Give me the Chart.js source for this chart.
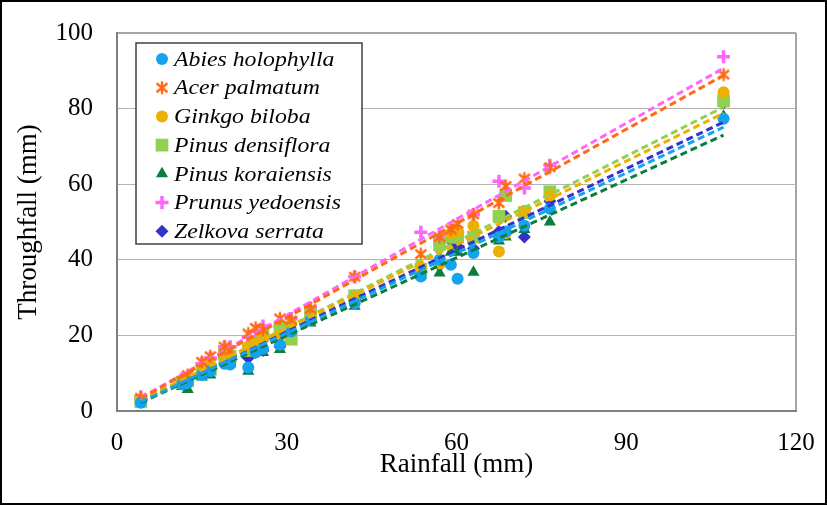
<!DOCTYPE html>
<html>
<head>
<meta charset="utf-8">
<script src="https://cdn.jsdelivr.net/npm/chart.js@4.4.1/dist/chart.umd.min.js"></script>
<style>
  html, body { margin: 0; padding: 0; background: #fff; }
  #wrap { width: 827px; height: 505px; }
</style>
</head>
<body>
<div id="wrap"><canvas id="chart" width="827" height="505"></canvas></div>
<script>
// rainfall events (mm), shared by all species
const rainfall   = [4.2, 11.5, 12.5, 15, 16.5, 19, 20, 23.2, 24.5, 25.8, 28.8, 30.8, 34.2, 42, 53.7, 57, 59, 60.2, 63, 67.5, 68.7, 72, 76.5, 107.2];

// throughfall (mm) per species
const abies      = [2.2, 7, 7.5, 9.5, 10.5, 12.5, 12.3, 11.5, 15.5, 16.5, 17.5, 21, 24, 28.5, 35.6, 40, 38.7, 35, 41.8, 46, 47.5, 49, 53.5, 77.3];
const acer       = [3.5, 8, 9.5, 13, 14.5, 17, 16, 20.5, 22, 21.5, 24.5, 24, 27, 35.5, 41.5, 46, 48, 49.5, 52, 55, 59.5, 61.5, 64.5, 89];
const ginkgo     = [3, 7.5, 8, 11.5, 12, 15, 14, 17, 18, 19, 20, 23, 25, 30, 38, 39, 47, 47.5, 49, 42.2, 47, 53, 57, 84.3];
const densiflora = [2.5, 7.5, 8, 11, 11, 15, 14.5, 16, 18, 20, 22, 19, 25.5, 30.5, 37.5, 44, 46, 46, 46, 51.5, 57, 52.5, 58, 82];
const koraiensis = [2.5, 6.5, 5.7, 9, 9.5, 13, 12.5, 10.5, 16, 15.5, 16.3, 21, 23.3, 27.7, 36, 36.5, 42, 42, 36.7, 45, 46, 48, 50, 78];
const prunus     = [3.8, 8.5, 9, 12.5, 14, 17, 17, 19.5, 21, 22.5, 22.5, 24.5, 27.3, 35.5, 47.3, 46, 47, 47.5, 52, 60.8, 57.5, 59, 65, 93.7];
const zelkova    = [3, 7.5, 7, 10, 11, 14, 13, 14, 15.5, 16, 17, 21, 25, 30.5, 37, 38.5, 45, 43.5, 43, 47.5, 51.5, 46, 55.5, 81.5];

const species = ['Abies holophylla', 'Acer palmatum', 'Ginkgo biloba', 'Pinus densiflora',
                 'Pinus koraiensis', 'Prunus yedoensis', 'Zelkova serrata'];
const series  = [abies, acer, ginkgo, densiflora, koraiensis, prunus, zelkova];
const colors  = ['#14a3ef', '#ff6a13', '#ebb000', '#92d050', '#0b7d3c', '#ff66ff', '#3333cc'];

// linear trend lines (value at first and last rainfall)
const trendX     = [4.2, 107.2];
const trendStart = [2.4, 3.3, 2.8, 2.6, 2.2, 3.5, 2.6];
const trendEnd   = [75.1, 88.8, 78.8, 80.4, 73.0, 90.7, 76.4];

const xTicks = [0, 30, 60, 90, 120];
const yTicks = [0, 20, 40, 60, 80, 100];

function asterisk(color) {
  const c = document.createElement('canvas');
  c.width = 16; c.height = 16;
  const g = c.getContext('2d');
  g.strokeStyle = color; g.lineWidth = 2.4; g.lineCap = 'butt';
  g.beginPath();
  g.moveTo(8, 1.5); g.lineTo(8, 14.5);
  g.moveTo(2.5, 3.5); g.lineTo(13.5, 12.5);
  g.moveTo(2.5, 12.5); g.lineTo(13.5, 3.5);
  g.stroke();
  return c;
}

const styles = [
  { pointStyle: 'circle',           radius: 6,   borderWidth: 0 },
  { pointStyle: asterisk(colors[1]), radius: 8,  borderWidth: 0 },
  { pointStyle: 'circle',           radius: 6,   borderWidth: 0 },
  { pointStyle: 'rect',             radius: 9,   borderWidth: 0 },
  { pointStyle: 'triangle',         radius: 7,   borderWidth: 0 },
  { pointStyle: 'cross',            radius: 6.5, borderWidth: 3.5 },
  { pointStyle: 'rectRot',          radius: 6.5, borderWidth: 0 },
];

const markerSets = series.map((vals, i) => ({
  label: species[i],
  data: vals.map((y, k) => ({ x: rainfall[k], y })),
  showLine: false,
  backgroundColor: colors[i],
  borderColor: colors[i],
  pointStyle: styles[i].pointStyle,
  pointRadius: styles[i].radius,
  pointBorderWidth: styles[i].borderWidth,
  order: 2,
}));

const trendSets = series.map((vals, i) => ({
  label: species[i] + ' trend',
  data: [{ x: trendX[0], y: trendStart[i] }, { x: trendX[1], y: trendEnd[i] }],
  showLine: true,
  borderColor: colors[i],
  borderWidth: 3,
  borderDash: [7, 4],
  pointRadius: 0,
  order: 1,
}));

const frame = {
  id: 'frame',
  beforeDraw(chart) {
    const ctx = chart.ctx;
    ctx.save();
    ctx.fillStyle = '#fff';
    ctx.fillRect(0, 0, chart.width, chart.height);
    ctx.restore();
  },
  afterDraw(chart) {
    const ctx = chart.ctx;
    ctx.save();
    ctx.strokeStyle = '#000';
    ctx.lineWidth = 2;
    ctx.strokeRect(1, 1, chart.width - 2, chart.height - 2);
    ctx.restore();
  }
};

const legendBox = {
  id: 'legendBox',
  afterDatasetsDraw(chart) {
    const ctx = chart.ctx;
    const a = chart.chartArea;
    const bx = a.left + 19, by = a.top + 10, bw = 226, bh = 201;
    ctx.save();
    ctx.fillStyle = '#fff';
    ctx.fillRect(bx, by, bw, bh);
    ctx.strokeStyle = '#404040';
    ctx.lineWidth = 1.5;
    ctx.strokeRect(bx, by, bw, bh);
    species.forEach((name, i) => {
      const y = by + 16 + i * 28.7;
      ctx.fillStyle = colors[i];
      ctx.strokeStyle = colors[i];
      ctx.lineWidth = styles[i].borderWidth;
      Chart.helpers.drawPoint(ctx, {
        pointStyle: styles[i].pointStyle,
        radius: styles[i].radius,
        borderWidth: styles[i].borderWidth,
        rotation: 0
      }, bx + 26, y);
      ctx.fillStyle = '#000';
      ctx.font = 'italic 22px "Liberation Serif", "Times New Roman", serif';
      ctx.textBaseline = 'middle';
      ctx.textAlign = 'left';
      ctx.save();
      ctx.translate(bx + 38, y);
      ctx.scale(1.08, 1);
      ctx.fillText(name, 0, 1);
      ctx.restore();
    });
    ctx.restore();
  }
};

const serif = '"Liberation Serif", "Times New Roman", serif';

new Chart(document.getElementById('chart'), {
  type: 'scatter',
  data: { datasets: [...markerSets, ...trendSets] },
  options: {
    responsive: false,
    animation: false,
    devicePixelRatio: 1,
    layout: { padding: { top: 33, right: 31, left: 0, bottom: 0 } },
    plugins: {
      legend: { display: false },
      tooltip: { enabled: false },
    },
    scales: {
      x: {
        type: 'linear',
        min: 0, max: 120,
        afterBuildTicks: s => { s.ticks = xTicks.map(v => ({ value: v })); },
        afterFit: s => { s.height = 94; s.paddingLeft = 0; s.paddingRight = 0; },
        border: { color: '#7f7f7f', width: 2 },
        grid: {
          drawTicks: false,
          lineWidth: 2,
          color: c => (c.tick && c.tick.value === 120) ? '#a6a6a6' : 'rgba(0,0,0,0)',
        },
        ticks: { color: '#000', padding: 17, font: { family: serif, size: 25 } },
        title: {
          display: true, text: 'Rainfall (mm)', color: '#000',
          font: { family: serif, size: 27 }, padding: { top: 0, bottom: 24 }
        }
      },
      y: {
        type: 'linear',
        min: 0, max: 100,
        afterBuildTicks: s => { s.ticks = yTicks.map(v => ({ value: v })); },
        afterFit: s => { s.width = 117; s.paddingTop = 0; s.paddingBottom = 0; },
        border: { color: '#7f7f7f', width: 2 },
        grid: {
          drawTicks: false,
          lineWidth: c => (c.tick && c.tick.value === 100) ? 2 : 1,
          color: c => (c.tick && c.tick.value === 100) ? '#a6a6a6' : '#b4b4b4',
        },
        ticks: { color: '#000', padding: 24, font: { family: serif, size: 25 } },
        title: {
          display: true, text: 'Throughfall (mm)', color: '#000',
          font: { family: serif, size: 27 }, padding: { top: 13, bottom: 0 }
        }
      }
    }
  },
  plugins: [frame, legendBox]
});
</script>
</body>
</html>
